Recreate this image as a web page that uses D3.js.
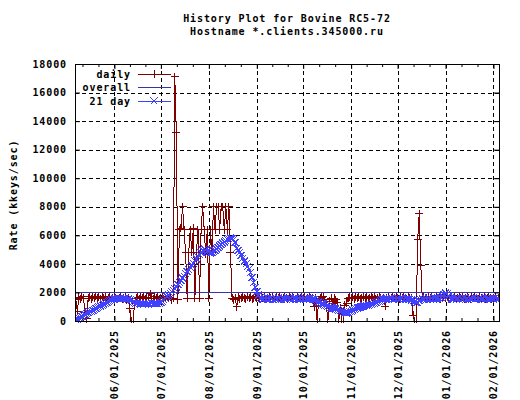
<!DOCTYPE html>
<html>
<head>
<meta charset="utf-8">
<script src="https://cdn.jsdelivr.net/npm/d3@7"></script>
<style>
  body { margin: 0; background: #fff; }
  text { font-family: "DejaVu Sans Mono", monospace; font-weight: bold; font-size: 10px; letter-spacing: 0.9px; fill: #000; }
</style>
</head>
<body>
<svg id="chart" width="520" height="400"></svg>
<script>
// data (one value per day, starting at startDay)
const startDay = "2025-05-07";
const daily = [
  // May
  1500, 700, 1650, 1550, 1700, 1600, 600, 150, 1600, 1700, 1550, 1650, 1600, 1750, 1600, 1650, 1550, 1700, 1600, 1650, 1500, 1600, 1700, 1550, 1600,
  // Jun
  1650, 1600, 1550, 1600, 1650, 1550, 1600, 1650, 1500, 1600, 850, 0, 0, 1200, 1600, 1650, 1550, 1700, 1600, 1650,
  1550, 1600, 1650, 1900, 1600, 1550, 1700, 1600, 1650, 1550,
  // Jul
  1600, 1650, 1550, 1600, 1700, 1600, 1650, 1500, 1600, 17100, 13200, 1500, 6400, 6500, 8000, 6400, 4800, 1600, 4800, 6400,
  4800, 6500, 1600, 4800, 6400, 1600, 6400, 8000, 6400, 4700, 6400,
  // Aug
  1600, 6400, 4800, 8000, 6400, 8000, 8000, 6400, 8000, 8000, 6400, 8000, 6400, 8000, 4800, 1600, 1500, 1600, 1000, 1650,
  1550, 1600, 1700, 1600, 1550, 1650, 1600, 1700, 1550, 1600, 1650,
  // Sep
  1600, 1650, 1550, 1700, 1600, 1650, 1550, 1600, 1700, 1600, 1650, 1550, 1600, 1650, 1600, 1700, 1550, 1600, 1650, 1600,
  1550, 1650, 1600, 1700, 1600, 1550, 1650, 1600, 1600, 1650,
  // Oct
  1600, 1650, 1550, 1600, 1700, 1600, 1600, 1000, 1600, 0, 1500, 1600, 1650, 1700, 1500, 1100, 0, 1400, 1600, 1250,
  1600, 1500, 1300, 0, 900, 0, 0, 1100, 1250, 1600, 1650,
  // Nov
  1600, 1650, 1550, 1700, 1600, 1650, 1550, 1600, 1700, 1600, 1650, 1550, 1600, 1650, 1600, 1700, 1550, 1600, 1650, 1600,
  1550, 1600, 1050, 1600, 1650, 1550, 1600, 1700, 1600, 1650,
  // Dec
  1600, 1550, 1650, 1600, 1700, 1600, 1550, 1650, 1600, 1600, 400, 0, 0, 5700, 7500, 3900, 1600, 1650, 1550, 1600,
  1700, 1600, 1650, 1550, 1600, 1650, 1600, 1700, 1550, 1600, 1650,
  // Jan
  1600, 1650, 1550, 1600, 1700, 1600, 1650, 1550, 1600, 1650, 1600, 1700, 1550, 1600, 1650, 1600, 1550, 1650, 1600, 1700,
  1600, 1550, 1650, 1600, 1600, 1700, 1550, 1600, 1650, 1600, 1550,
  // Feb
  1600, 1650, 1550, 1600
];
const avg21 = [
  // May
  80, 140, 200, 265, 325, 385, 445, 510, 570, 630, 690, 755, 815, 875, 935, 1000, 1060, 1120, 1180, 1245, 1305, 1365, 1425, 1490, 1530,
  // Jun
  1550, 1560, 1565, 1570, 1575, 1570, 1565, 1555, 1540, 1520, 1480, 1420, 1350, 1290, 1250, 1225, 1210, 1200, 1195, 1200,
  1210, 1200, 1190, 1200, 1215, 1205, 1200, 1210, 1220, 1240,
  // Jul
  1300, 1380, 1480, 1580, 1700, 1820, 1950, 2050, 2150, 2250, 2400, 2550, 2700, 2850, 3000, 3150, 3300, 3450, 3600, 3750,
  3900, 4050, 4200, 4350, 4500, 4650, 4800, 4950, 5050, 5000, 4900,
  // Aug
  4800, 4780, 4800, 4850, 4950, 5050, 5150, 5250, 5350, 5450, 5550, 5620, 5700, 5750, 5800, 5780, 5700, 5500, 5100, 4950,
  4800, 4600, 4400, 4200, 4000, 3800, 3650, 3400, 3050, 2700, 2350,
  // Sep
  2050, 1800, 1620, 1560, 1500, 1600, 1540, 1590, 1520, 1600, 1550, 1490, 1580, 1530, 1610, 1540, 1500, 1590, 1560, 1520,
  1600, 1540, 1580, 1500, 1570, 1610, 1530, 1560, 1500, 1590,
  // Oct
  1540, 1600, 1520, 1570, 1550, 1590, 1530, 1500, 1450, 1390, 1330, 1270, 1220, 1170, 1120, 1080, 1040, 1000, 960, 920,
  880, 840, 800, 760, 720, 680, 640, 600, 570, 600, 650,
  // Nov
  700, 760, 820, 870, 910, 950, 980, 1010, 1040, 1060, 1080, 1100, 1120, 1160, 1200, 1250, 1300, 1350, 1400, 1450,
  1500, 1530, 1550, 1590, 1520, 1570, 1600, 1530, 1580, 1550,
  // Dec
  1600, 1520, 1570, 1610, 1530, 1580, 1550, 1540, 1520, 1480, 1420, 1350, 1280, 1300, 1420, 1500, 1560, 1520, 1590, 1540,
  1600, 1530, 1570, 1510, 1590, 1550, 1600, 1580, 1650, 1750, 1850,
  // Jan
  1950, 1900, 1750, 1620, 1560, 1520, 1600, 1540, 1580, 1510, 1590, 1550, 1610, 1530, 1570, 1500, 1590, 1550, 1600, 1520,
  1580, 1540, 1610, 1530, 1560, 1500, 1590, 1550, 1600, 1520, 1570,
  // Feb
  1540, 1600, 1530, 1570
];
const overall = 2010;
const monthTicks = ["2025-06-01", "2025-07-01", "2025-08-01", "2025-09-01", "2025-10-01",
                    "2025-11-01", "2025-12-01", "2026-01-01", "2026-02-01"];
const yTicks = [0, 2000, 4000, 6000, 8000, 10000, 12000, 14000, 16000, 18000];
const titleLines = ["History Plot for Bovine RC5-72", "Hostname *.clients.345000.ru"];
const yLabel = "Rate (kkeys/sec)";
const seriesNames = ["daily", "overall", "21 day"];

const svg = d3.select("#chart");
const pL = 75, pR = 499, pT = 64, pB = 321;
const red = "#800000", navy = "#3535a8", blue = "#4040ff";

const parse = d3.utcParse("%Y-%m-%d");
const x = d3.scaleUtc()
  .domain([new Date(Date.UTC(2025, 4, 6, 12)), new Date(Date.UTC(2026, 1, 4, 13, 30))])
  .range([pL, pR]);
const y = d3.scaleLinear().domain([0, 18000]).range([pB, pT]);

const t0 = parse(startDay);
const rows = daily.map((v, i) => ({ date: d3.utcDay.offset(t0, i), v: v, a: avg21[i] }));
const months = monthTicks.map(parse);

// minor x tics: thirds of each month
const minors = [];
d3.utcMonth.range(new Date(Date.UTC(2025, 4, 1)), new Date(Date.UTC(2026, 2, 1))).forEach(m => {
  const n = d3.utcMonth.offset(m, 1);
  [1, 2].forEach(k => {
    const d = new Date(+m + (n - m) * k / 3);
    if (d >= x.domain()[0] && d <= x.domain()[1]) minors.push(d);
  });
});

// grid
const grid = svg.append("g").attr("stroke", "#000").attr("stroke-dasharray", "4,3").attr("shape-rendering", "crispEdges");
months.forEach(d => {
  grid.append("line").attr("x1", Math.round(x(d)) + 0.5).attr("x2", Math.round(x(d)) + 0.5)
    .attr("y1", pT).attr("y2", pB);
});
yTicks.slice(1, -1).forEach(v => {
  grid.append("line").attr("x1", pL).attr("x2", pR)
    .attr("y1", Math.round(y(v)) + 0.5).attr("y2", Math.round(y(v)) + 0.5);
});

// data
svg.append("clipPath").attr("id", "clip").append("rect")
  .attr("x", pL).attr("y", pT).attr("width", pR - pL).attr("height", pB - pT + 2);
const plot = svg.append("g").attr("clip-path", "url(#clip)").attr("shape-rendering", "crispEdges");

const plusPath = "M-4,0H4M0,-4V4";
const crossPath = "M-3.5,-3.5L3.5,3.5M-3.5,3.5L3.5,-3.5";

plot.append("path").datum(rows)
  .attr("fill", "none").attr("stroke", red).attr("stroke-width", 1)
  .attr("d", d3.line().x(d => x(d.date)).y(d => y(d.v)));
plot.append("g").selectAll("path").data(rows).join("path")
  .attr("transform", d => `translate(${x(d.date)},${y(d.v)})`)
  .attr("d", plusPath).attr("stroke", red).attr("stroke-width", 1).attr("fill", "none");

plot.append("line")
  .attr("x1", pL).attr("x2", pR)
  .attr("y1", Math.round(y(overall)) + 0.5).attr("y2", Math.round(y(overall)) + 0.5)
  .attr("stroke", navy).attr("stroke-width", 1);

plot.append("path").datum(rows)
  .attr("fill", "none").attr("stroke", blue).attr("stroke-width", 1)
  .attr("d", d3.line().x(d => x(d.date)).y(d => y(d.a)));
plot.append("g").selectAll("path").data(rows).join("path")
  .attr("transform", d => `translate(${x(d.date)},${y(d.a)})`)
  .attr("d", crossPath).attr("stroke", blue).attr("fill", "none");

// border
svg.append("rect").attr("x", pL + 0.5).attr("y", pT + 0.5)
  .attr("width", pR - pL).attr("height", pB - pT)
  .attr("fill", "none").attr("stroke", "#000");

// axes
const xAxis = svg.append("g").attr("transform", `translate(0,${pB})`)
  .call(d3.axisBottom(x).tickValues(months).tickFormat(d3.utcFormat("%m/%d/%Y")).tickSizeInner(-5).tickSizeOuter(0));
xAxis.select(".domain").remove();
xAxis.selectAll("text")
  .attr("transform", "rotate(-90)")
  .attr("text-anchor", "end")
  .attr("x", -9).attr("y", 0).attr("dy", "0.35em");

svg.append("g").attr("transform", `translate(0,${pB})`)
  .call(d3.axisBottom(x).tickValues(minors).tickFormat("").tickSizeInner(-3).tickSizeOuter(0))
  .select(".domain").remove();
svg.append("g").attr("transform", `translate(0,${pT})`)
  .call(d3.axisTop(x).tickValues(months).tickFormat("").tickSizeInner(-5).tickSizeOuter(0))
  .select(".domain").remove();
svg.append("g").attr("transform", `translate(0,${pT})`)
  .call(d3.axisTop(x).tickValues(minors).tickFormat("").tickSizeInner(-3).tickSizeOuter(0))
  .select(".domain").remove();

const yAxis = svg.append("g").attr("transform", `translate(${pL},0)`)
  .call(d3.axisLeft(y).tickValues(yTicks).tickFormat(d3.format("d")).tickSizeInner(-5).tickSizeOuter(0).tickPadding(8));
yAxis.select(".domain").remove();
svg.append("g").attr("transform", `translate(${pR},0)`)
  .call(d3.axisRight(y).tickValues(yTicks).tickFormat("").tickSizeInner(-5).tickSizeOuter(0))
  .select(".domain").remove();

svg.selectAll(".tick text").attr("font-family", null).attr("font-size", null);
svg.selectAll(".tick line").attr("stroke", "#000");

// titles
titleLines.forEach((t, i) => {
  svg.append("text").attr("x", 287).attr("y", 22 + i * 13).attr("text-anchor", "middle").text(t);
});
svg.append("text").attr("transform", "translate(17,195) rotate(-90)")
  .attr("text-anchor", "middle").text(yLabel);

// legend
const legY = [74, 87.5, 101];
const leg = svg.append("g").attr("shape-rendering", "crispEdges");
seriesNames.forEach((name, i) => {
  leg.append("text").attr("x", 131).attr("y", legY[i]).attr("dy", "0.35em")
    .attr("text-anchor", "end").text(name);
  const col = [red, navy, blue][i];
  leg.append("line").attr("x1", 138).attr("x2", 171).attr("y1", legY[i]).attr("y2", legY[i])
    .attr("stroke", col).attr("stroke-width", 1);
  if (i !== 1) {
    leg.append("path").attr("transform", `translate(154,${legY[i]})`)
      .attr("d", i === 0 ? plusPath : crossPath).attr("stroke", col).attr("fill", "none");
  }
});
</script>
</body>
</html>
